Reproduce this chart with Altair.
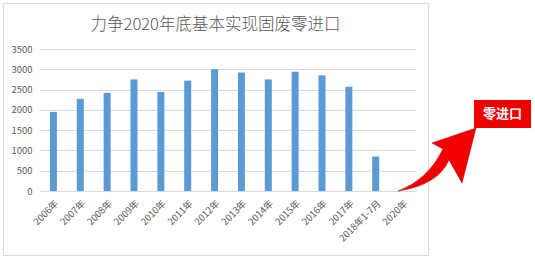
import altair as alt
import pandas as pd

categories = ["2006年", "2007年", "2008年", "2009年", "2010年", "2011年", "2012年",
              "2013年", "2014年", "2015年", "2016年", "2017年", "2018年1-7月", "2020年"]
values = [1950, 2270, 2420, 2750, 2440, 2720, 3000, 2920, 2750, 2940, 2850, 2570, 850, 0]
y_ticks = [0, 500, 1000, 1500, 2000, 2500, 3000, 3500]
title_text = "力争2020年底基本实现固废零进口"
callout_text = "零进口"

FONT = "Noto Sans CJK SC"
GRAY = "#595959"
GRID = "#d9d9d9"

df = pd.DataFrame({"cat": categories, "val": values})
one = pd.DataFrame({"k": [0]})

bars = alt.Chart(df).mark_bar(size=7, color="#5b9bd5").encode(
    x=alt.X("cat:N", sort=categories, title=None,
            scale=alt.Scale(domain=categories),
            axis=alt.Axis(labelAngle=-45, ticks=False, domainColor=GRID,
                          labelFont=FONT, labelFontSize=9.5, labelColor=GRAY,
                          labelPadding=7, grid=False)),
    y=alt.Y("val:Q", title=None,
            scale=alt.Scale(domain=[0, 3500], nice=False),
            axis=alt.Axis(values=y_ticks, format="d", ticks=False, domain=False,
                          gridColor=GRID, labelFont=FONT, labelFontSize=9.5,
                          labelColor=GRAY, labelPadding=8)),
)

frame = alt.Chart(one).mark_rect(filled=False, stroke=GRID, strokeWidth=1).encode(
    x=alt.value(-36.5), x2=alt.value(388.5), y=alt.value(-45.5), y2=alt.value(206.5)
)

title = alt.Chart(one).mark_text(
    text=title_text, font=FONT, fontSize=16.5, fontWeight=300, color=GRAY,
    align="center", baseline="middle"
).encode(x=alt.value(175.5), y=alt.value(-24.5))

arrow_path = ("M-0.975,0.7875 Q-0.225,0.5125 0.15,-0.2625 L-0.125,-0.4125 "
              "L0.975,-0.7875 L0.625,0.5875 L0.3,0.0125 Q0.025,0.6375 -0.975,0.7875 Z")
arrow = alt.Chart(one).mark_point(
    shape=arrow_path, filled=True, size=6400, fill="#f20000",
    stroke="#b01010", strokeWidth=0.6, opacity=1
).encode(x=alt.value(397), y=alt.value(110.5))

box = alt.Chart(one).mark_rect(color="#ee0000").encode(
    x=alt.value(434), x2=alt.value(491), y=alt.value(51), y2=alt.value(79)
)

box_text = alt.Chart(one).mark_text(
    text=callout_text, font=FONT, fontSize=13, fontWeight="bold", color="white",
    align="center", baseline="middle"
).encode(x=alt.value(462.5), y=alt.value(65))

chart = alt.layer(frame, bars, title, arrow, box, box_text).properties(
    width=376, height=142,
    autosize=alt.AutoSizeParams(type="none"),
    padding={"left": 40, "top": 49, "right": 119, "bottom": 72},
    background="white",
).configure_view(stroke=None)

chart.save("out.html", embed_options={"renderer": "svg", "actions": False})
